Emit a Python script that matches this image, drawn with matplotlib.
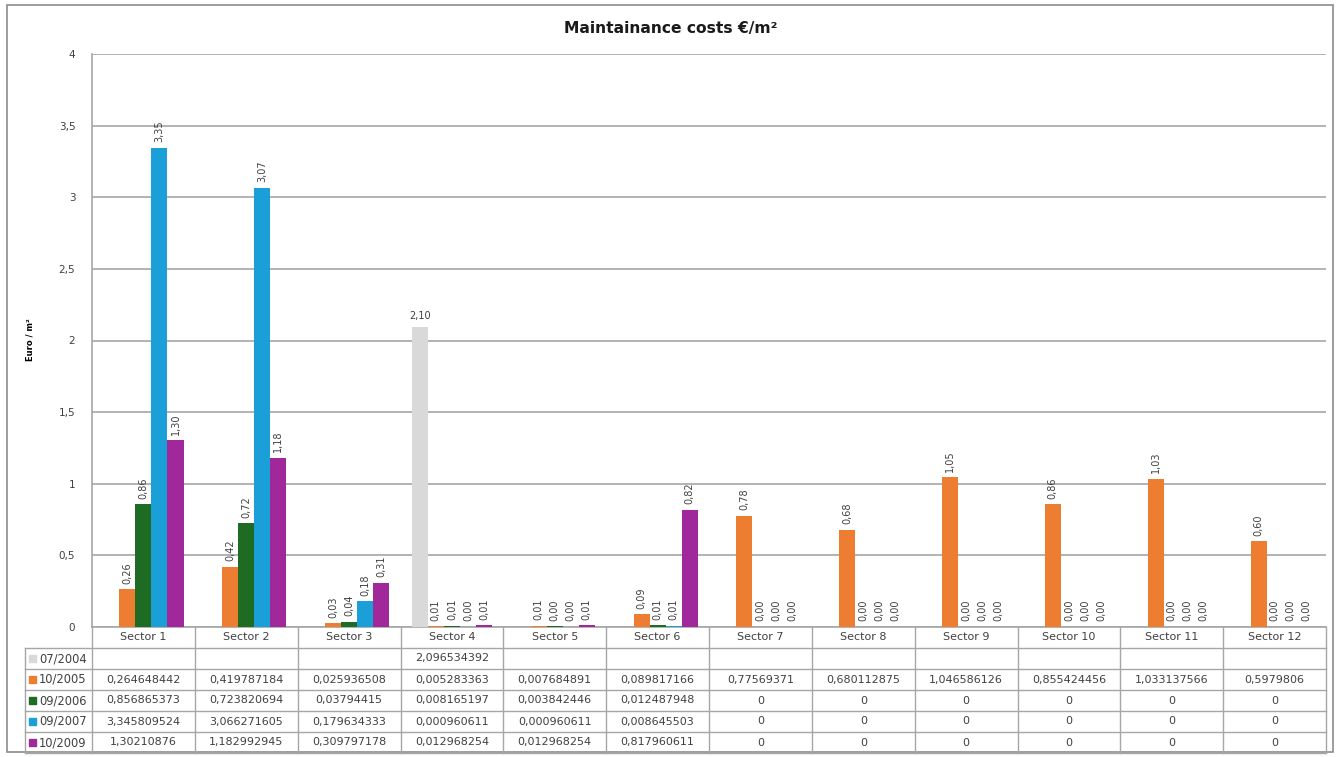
import numpy as np
import matplotlib.pyplot as plt
from matplotlib.patches import Rectangle

sectors = ["Sector %d" % i for i in range(1, 13)]
series = ["07/2004", "10/2005", "09/2006", "09/2007", "10/2009"]
colors = ["#d9d9d9", "#ed7d31", "#1e6b24", "#1a9fd8", "#a0289a"]

nan = np.nan
v2004 = [nan, nan, nan, 2.096534392, nan, nan, nan, nan, nan, nan, nan, nan]
v2005 = [0.264648442, 0.419787184, 0.025936508, 0.005283363, 0.007684891, 0.089817166,
         0.77569371, 0.680112875, 1.046586126, 0.855424456, 1.033137566, 0.5979806]
v2006 = [0.856865373, 0.723820694, 0.03794415, 0.008165197, 0.003842446, 0.012487948,
         0, 0, 0, 0, 0, 0]
v2007 = [3.345809524, 3.066271605, 0.179634333, 0.000960611, 0.000960611, 0.008645503,
         0, 0, 0, 0, 0, 0]
v2009 = [1.30210876, 1.182992945, 0.309797178, 0.012968254, 0.012968254, 0.817960611,
         0, 0, 0, 0, 0, 0]
values = [v2004, v2005, v2006, v2007, v2009]

W, H = 1340, 757
fig = plt.figure(figsize=(W / 100, H / 100), dpi=100)
plt.rcParams['font.family'] = ['DejaVu Sans']

# plot area in pixels
px_l, px_r, px_t, px_b = 92, 1326, 54, 627
ax = fig.add_axes([px_l / W, 1 - px_b / H, (px_r - px_l) / W, (px_b - px_t) / H])

# outer frame
fig.patches.append(Rectangle((7 / W, 1 - 752 / H), 1326 / W, 747 / H, transform=fig.transFigure,
                             fill=False, edgecolor="#8c8c8c", linewidth=1.2))

x = np.arange(len(sectors))
bw = 0.156
grid_col = "#a6a6a6"

for i, (name, vals, c) in enumerate(zip(series, values, colors)):
    off = (i - 2) * bw
    vals = np.array(vals, dtype=float)
    ax.bar(x + off, np.nan_to_num(vals), bw, color=c, zorder=3)
    for xi, v in zip(x, vals):
        if np.isnan(v):
            continue
        txt = ("%.2f" % v).replace(".", ",")
        if i == 0:
            ax.annotate(txt, (xi + off, v), xytext=(0, 4), textcoords="offset points",
                        ha="center", va="bottom", fontsize=7, color="#404040")
        else:
            ax.annotate(txt, (xi + off, v), xytext=(0, 4), textcoords="offset points",
                        ha="center", va="bottom", rotation=90, fontsize=7, color="#404040")

ax.set_xlim(-0.5, len(sectors) - 0.5)
ax.set_ylim(0, 4)
yt = np.arange(0, 4.01, 0.5)
ax.set_yticks(yt)
ax.set_yticklabels([("%g" % t).replace(".", ",") for t in yt], fontsize=7.5, color="#404040")
ax.tick_params(axis="y", length=0, pad=12)
ax.set_xticks([])
ax.grid(axis="y", color=grid_col, linewidth=1.2, zorder=0)
for s in ["top", "right"]:
    ax.spines[s].set_visible(False)
ax.spines["left"].set_color(grid_col)
ax.spines["bottom"].set_color(grid_col)
ax.spines["left"].set_linewidth(1.2)
ax.spines["bottom"].set_linewidth(1.2)

fig.text(30 / W, 1 - 340 / H, "Euro / m\u00b2", rotation=90, ha="center", va="center",
         fontsize=6, fontweight="bold")
fig.text(671 / W, 1 - 28 / H, "Maintainance costs \u20ac/m\u00b2", ha="center", va="center",
         fontsize=11.2, fontweight="bold", color="#1a1a1a")

# data table below the axes
row_h = 21
tab_top = px_b
lbl_l = 25
line_kw = dict(color=grid_col, linewidth=1.0)


def fy(py):
    return 1 - py / H


def fx(pxv):
    return pxv / W


col_px = px_l + (np.arange(len(sectors) + 1)) * (px_r - px_l) / len(sectors)
n_rows = len(series)
bottom = tab_top + row_h * (n_rows + 1)

# vertical separators
for cx in col_px:
    fig.add_artist(plt.Line2D([fx(cx), fx(cx)], [fy(tab_top), fy(bottom)], **line_kw))
fig.add_artist(plt.Line2D([fx(lbl_l), fx(lbl_l)], [fy(tab_top + row_h), fy(bottom)], **line_kw))
# horizontal lines
for r in range(1, n_rows + 2):
    yy = tab_top + r * row_h
    fig.add_artist(plt.Line2D([fx(lbl_l), fx(px_r)], [fy(yy), fy(yy)], **line_kw))

for j, name in enumerate(sectors):
    cx = (col_px[j] + col_px[j + 1]) / 2
    fig.text(fx(cx), fy(tab_top + row_h / 2), name, ha="center", va="center",
             fontsize=8, color="#404040")

for i, (name, vals, c) in enumerate(zip(series, values, colors)):
    cy = tab_top + row_h * (i + 1) + row_h / 2
    fig.patches.append(Rectangle((fx(29), fy(cy + 3.5)), 7 / W, 7 / H,
                                 transform=fig.transFigure, color=c))
    fig.text(fx(39), fy(cy), name, ha="left", va="center", fontsize=8.3, color="#404040")
    for j, v in enumerate(vals):
        if np.isnan(v):
            continue
        cx = (col_px[j] + col_px[j + 1]) / 2
        fig.text(fx(cx), fy(cy), ("%.10g" % v).replace(".", ","), ha="center", va="center",
                 fontsize=8, color="#404040")

fig.savefig("out.png", dpi=100)
